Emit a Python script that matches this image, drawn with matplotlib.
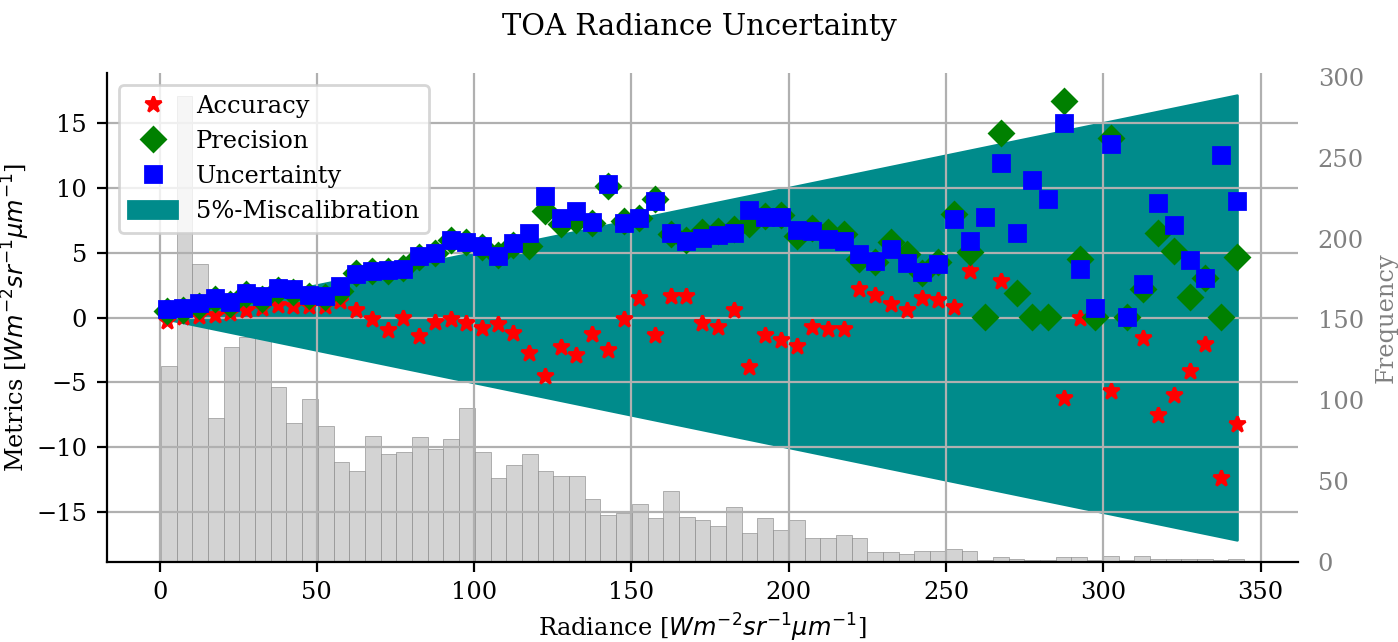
import numpy as np
import matplotlib
matplotlib.use("Agg")
import matplotlib.pyplot as plt

# Radiance bin centres [W m-2 sr-1 um-1]
radiance = np.array([
    2.5, 7.5, 12.5, 17.5, 22.5, 27.5, 32.5, 37.5, 42.5, 47.5,
    52.5, 57.5, 62.5, 67.5, 72.5, 77.5, 82.5, 87.5, 92.5, 97.5,
    102.5, 107.5, 112.5, 117.5, 122.5, 127.5, 132.5, 137.5, 142.5, 147.5,
    152.5, 157.5, 162.5, 167.5, 172.5, 177.5, 182.5, 187.5, 192.5, 197.5,
    202.5, 207.5, 212.5, 217.5, 222.5, 227.5, 232.5, 237.5, 242.5, 247.5,
    252.5, 257.5, 262.5, 267.5, 272.5, 277.5, 282.5, 287.5, 292.5, 297.5,
    302.5, 307.5, 312.5, 317.5, 322.5, 327.5, 332.5, 337.5, 342.5,
])

accuracy = [
    -0.28, 0.05, 0.1, 0.23, 0.35, 0.57, 0.75, 1.0, 0.87, 0.9,
    0.87, 1.26, 0.54, -0.1, -0.93, -0.03, -1.39, -0.36, -0.15, -0.41,
    -0.8, -0.48, -1.2, -2.75, -4.53, -2.3, -2.88, -1.27, -2.47, -0.1,
    1.47, -1.36, 1.65, 1.65, -0.41, -0.72, 0.57, -3.81, -1.36, -1.77,
    -2.21, -0.72, -0.87, -0.87, 2.21, 1.77, 1.05, 0.54, 1.52, 1.34,
    0.8, 3.58, 7.77, 2.8, 6.4, 10.6, 9.1, -6.2, -0.03, 0.75,
    -5.68, 0.05, -1.57, -7.48, -5.94, -4.14, -2.08, -12.4, -8.18,
]

precision = [
    0.5, 0.6, 0.85, 1.4, 1.05, 1.8, 1.45, 2.1, 1.95, 1.65,
    1.55, 2.05, 3.4, 3.55, 3.6, 3.8, 4.65, 5.0, 5.95, 5.85,
    5.4, 4.85, 5.6, 5.5, 8.2, 7.2, 7.55, 7.3, 10.1, 7.4,
    7.7, 9.1, 6.4, 6.0, 6.6, 6.7, 6.8, 7.2, 7.8, 7.9,
    6.3, 6.9, 6.6, 6.4, 4.5, 4.3, 5.8, 4.9, 3.45, 4.3,
    8.0, 5.04, 0.05, 14.2, 1.85, 0.05, 0.05, 16.7, 4.48, 0.05,
    13.86, 0.05, 2.2, 6.53, 5.12, 1.6, 3.06, 0.05, 4.68,
]

uncertainty = [
    0.62, 0.75, 1.08, 1.47, 1.2, 1.85, 1.68, 2.3, 2.18, 1.72,
    1.68, 2.45, 3.35, 3.6, 3.68, 3.75, 4.72, 4.95, 6.0, 5.8,
    5.5, 4.72, 5.76, 6.53, 9.36, 7.69, 8.2, 7.36, 10.26, 7.25,
    7.69, 8.98, 6.53, 5.89, 6.15, 6.33, 6.53, 8.26, 7.77, 7.77,
    6.75, 6.66, 6.07, 5.89, 4.86, 4.35, 5.25, 4.17, 3.5, 4.09,
    7.56, 5.89, 7.77, 11.88, 6.48, 10.6, 9.1, 15.0, 3.7, 0.75,
    13.35, 0.05, 2.55, 8.85, 7.1, 4.42, 3.06, 12.5, 8.98,
]

# Radiance histogram (69 bins)
hist_range = (0.4, 344.8)
hist_counts = [
    121, 288, 184, 89, 133, 139, 139, 108, 86, 101,
    84, 62, 56, 78, 67, 68, 77, 70, 76, 95,
    68, 52, 60, 67, 56, 53, 53, 39, 29, 30,
    36, 27, 44, 28, 26, 22, 34, 18, 27, 20,
    26, 15, 15, 17, 15, 6, 6, 5, 7, 7,
    8, 7, 1, 3, 2, 1, 1, 3, 3, 1,
    4, 1, 4, 2, 2, 2, 2, 1, 2,
]

MISCAL = 0.05  # 5 % miscalibration band

plt.rcParams["font.family"] = "serif"
plt.rcParams["font.size"] = 8.7

fig, ax1 = plt.subplots(figsize=(6.99, 3.21), dpi=200)
fig.subplots_adjust(left=0.0763, right=0.9287, bottom=0.1246, top=0.8863)

# histogram on the secondary axis, kept underneath
ax2 = ax1.twinx()
edges = np.linspace(hist_range[0], hist_range[1], len(hist_counts) + 1)
centres = 0.5 * (edges[:-1] + edges[1:])
ax2.hist(centres, bins=edges, weights=hist_counts, color="lightgrey",
         edgecolor="grey", linewidth=0.2)
ax2.set_ylabel("Frequency", color="grey")
ax2.tick_params(axis="y", colors="grey", length=0, pad=7)
for side in ("right", "top", "left", "bottom"):
    ax2.spines[side].set_visible(False)

ax1.set_zorder(ax2.get_zorder() + 1)
ax1.patch.set_visible(False)

ax1.plot(radiance, accuracy, "r*", label="Accuracy")
ax1.plot(radiance, precision, "gD", label="Precision")
ax1.plot(radiance, uncertainty, "bs", label="Uncertainty")
ax1.fill_between(radiance, -MISCAL * radiance, MISCAL * radiance,
                 color="darkcyan", label="5%-Miscalibration", zorder=1)

ax1.grid(True)
ax1.spines["right"].set_visible(False)
ax1.spines["top"].set_visible(False)
ax1.set_xlabel(r"Radiance [$Wm^{-2}sr^{-1}\mu m^{-1}$]", labelpad=2.5)
ax1.set_ylabel(r"Metrics [$Wm^{-2}sr^{-1}\mu m^{-1}$]", labelpad=1.5)
ax1.legend(loc="upper left")

fig.suptitle("TOA Radiance Uncertainty")
fig.savefig("out.png", dpi=200)
